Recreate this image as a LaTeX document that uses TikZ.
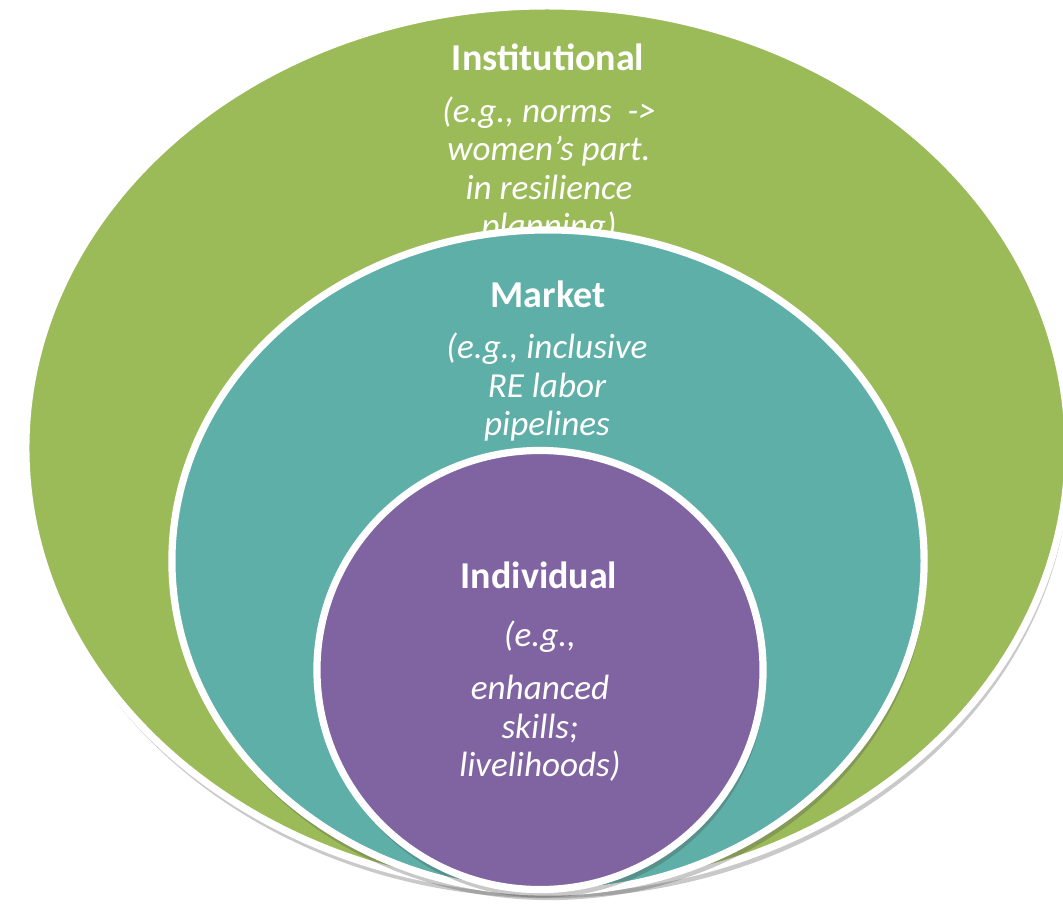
\documentclass[tikz,border=0pt]{standalone}
\usepackage{fontspec}
\setmainfont{Carlito}
\usepackage{tikz}
\usetikzlibrary{shapes.geometric,shadows}

\definecolor{instgreen}{HTML}{9BBB59}
\definecolor{markteal}{HTML}{5DAFA7}
\definecolor{indpurple}{HTML}{8064A2}

\tikzset{
  ring/.style={ellipse, draw=white, line width=0.18cm, inner sep=0pt,
    drop shadow={shadow xshift=0.05cm, shadow yshift=-0.2cm, opacity=0.3, fill=black!70}},
  title/.style={text=white, font=\bfseries\fontsize{27}{30}\selectfont},
  body/.style={text=white, align=center, font=\itshape\fontsize{25}{27.4}\selectfont}
}

\begin{document}
\begin{tikzpicture}[x=0.025cm, y=-0.025cm]
  \useasboundingbox (0,0) rectangle (1063,904);

  \draw (547,448) node[ring, fill=instgreen, minimum width=26.05cm, minimum height=22.1cm] (institutional) {};
  \draw (548,57) node[title] (insttitle) {Institutional};
  \draw (549,170) node[body] (instbody) {(e.g., norms~~->\\women's part.\\in resilience\\planning)};

  \draw (548,561) node[ring, fill=markteal, minimum width=18.8cm, minimum height=16.55cm] (market) {};
  \draw (548,294) node[title] (markettitle) {Market};
  \draw (547,387) node[body] (marketbody) {(e.g., inclusive\\RE labor\\pipelines};

  \draw (540,670) node[ring, fill=indpurple, minimum width=11.15cm, minimum height=10.975cm] (individual) {};
  \draw (539,575) node[title] (indtitle) {Individual};
  \draw (540,701) node[body] (indbody) {(e.g.,\\[0.37cm]enhanced\\skills;\\livelihoods)};
\end{tikzpicture}
\end{document}
